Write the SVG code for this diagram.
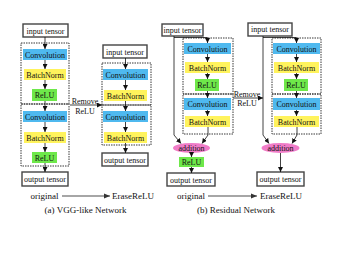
<svg xmlns="http://www.w3.org/2000/svg" width="349" height="261" viewBox="0 0 349 261">
<defs>
<marker id="ah" markerWidth="5" markerHeight="5" refX="5" refY="2.5" orient="auto" markerUnits="userSpaceOnUse"><path d="M0,0 L5,2.5 L0,5 z" fill="#111"/></marker>
<marker id="ahg" markerWidth="6" markerHeight="6" refX="6" refY="3" orient="auto" markerUnits="userSpaceOnUse"><path d="M0,0.5 L6,3 L0,5.5 z" fill="#333"/></marker>
<style>
text{font-family:"Liberation Serif","Times New Roman",serif;fill:#111;}
.lbl{font-size:8px;text-anchor:middle;}
.cap{font-size:9px;}
.io{fill:#fff;stroke:#444;stroke-width:1.4;}
.grp{fill:none;stroke:#222;stroke-width:0.9;stroke-dasharray:1.5 1;}
.conv{fill:#4fb9ef;}
.bn{fill:#fff35c;}
.relu{fill:#6ee84a;}
.add{fill:#f07cc8;}
.c{fill:none;stroke:#111;stroke-width:0.8;marker-end:url(#ah);}
.g{fill:none;stroke:#888;stroke-width:1.6;marker-end:url(#ahg);}
</style>
</defs>
<rect width="349" height="261" fill="#fff"/>

<!-- (a) VGG original -->
<g id="vgg-orig-block1"><rect class="grp" x="21" y="43" width="48" height="61"/></g>
<g id="vgg-orig-block2"><rect class="grp" x="21" y="104" width="48" height="62"/></g>
<g id="vgg-orig-input"><rect class="io" x="23" y="24" width="45" height="13"/><text class="lbl" x="45.5" y="33.5">input tensor</text></g>
<g id="vgg-orig-conv1"><rect class="conv" x="23" y="49" width="44" height="11"/><text class="lbl" x="45" y="57.5">Convolution</text></g>
<g id="vgg-orig-bn1"><rect class="bn" x="24" y="69" width="42" height="11"/><text class="lbl" x="45" y="77.5">BatchNorm</text></g>
<g id="vgg-orig-relu1"><rect class="relu" x="32" y="89" width="25" height="12"/><text class="lbl" x="44.5" y="98">ReLU</text></g>
<g id="vgg-orig-conv2"><rect class="conv" x="23" y="111" width="44" height="11"/><text class="lbl" x="45" y="119.5">Convolution</text></g>
<g id="vgg-orig-bn2"><rect class="bn" x="24" y="132" width="42" height="11"/><text class="lbl" x="45" y="140.5">BatchNorm</text></g>
<g id="vgg-orig-relu2"><rect class="relu" x="32" y="152" width="25" height="11"/><text class="lbl" x="44.5" y="160.5">ReLU</text></g>
<g id="vgg-orig-output"><rect class="io" x="22" y="172" width="46" height="14"/><text class="lbl" x="45" y="182">output tensor</text></g>

<!-- (a) VGG EraseReLU -->
<g id="vgg-erase-block1"><rect class="grp" x="102" y="63" width="49" height="42"/></g>
<g id="vgg-erase-block2"><rect class="grp" x="102" y="105" width="49" height="40"/></g>
<g id="vgg-erase-input"><rect class="io" x="103" y="45" width="44" height="13"/><text class="lbl" x="125" y="54.5">input tensor</text></g>
<g id="vgg-erase-conv1"><rect class="conv" x="103" y="69" width="45" height="11"/><text class="lbl" x="125.5" y="77.5">Convolution</text></g>
<g id="vgg-erase-bn1"><rect class="bn" x="104" y="90" width="43" height="11"/><text class="lbl" x="125.5" y="98.5">BatchNorm</text></g>
<g id="vgg-erase-conv2"><rect class="conv" x="103" y="111" width="45" height="11"/><text class="lbl" x="125.5" y="119.5">Convolution</text></g>
<g id="vgg-erase-bn2"><rect class="bn" x="104" y="132" width="43" height="11"/><text class="lbl" x="125.5" y="140.5">BatchNorm</text></g>
<g id="vgg-erase-output"><rect class="io" x="102" y="153" width="46" height="13"/><text class="lbl" x="125" y="162.5">output tensor</text></g>

<!-- (b) Residual original -->
<g id="res-orig-block1"><rect class="grp" x="183" y="38" width="50" height="56"/></g>
<g id="res-orig-block2"><rect class="grp" x="183" y="94" width="50" height="40"/></g>
<g id="res-orig-input"><rect class="io" x="162" y="24" width="41" height="12"/><text class="lbl" x="182.5" y="32.8">input tensor</text></g>
<g id="res-orig-conv1"><rect class="conv" x="184" y="43" width="47" height="11"/><text class="lbl" x="207.5" y="51.5">Convolution</text></g>
<g id="res-orig-bn1"><rect class="bn" x="185" y="62" width="45" height="11"/><text class="lbl" x="207.5" y="70.5">BatchNorm</text></g>
<g id="res-orig-relu1"><rect class="relu" x="195" y="79" width="24" height="12"/><text class="lbl" x="207" y="88">ReLU</text></g>
<g id="res-orig-conv2"><rect class="conv" x="184" y="98" width="47" height="12"/><text class="lbl" x="207.5" y="107">Convolution</text></g>
<g id="res-orig-bn2"><rect class="bn" x="185" y="116" width="45" height="11"/><text class="lbl" x="207.5" y="124.5">BatchNorm</text></g>
<g id="res-orig-add"><ellipse class="add" cx="191.5" cy="148" rx="18.5" ry="5"/><text class="lbl" x="191.5" y="151">addition</text></g>
<g id="res-orig-relu2"><rect class="relu" x="179" y="157" width="25" height="10"/><text class="lbl" x="191.5" y="165">ReLU</text></g>
<g id="res-orig-output"><rect class="io" x="167" y="173" width="48" height="13"/><text class="lbl" x="191" y="182.5">output tensor</text></g>

<!-- (b) Residual EraseReLU -->
<g id="res-erase-block1"><rect class="grp" x="272" y="38" width="49" height="56"/></g>
<g id="res-erase-block2"><rect class="grp" x="272" y="94" width="49" height="40"/></g>
<g id="res-erase-input"><rect class="io" x="248" y="23" width="44" height="13"/><text class="lbl" x="270" y="32.3">input tensor</text></g>
<g id="res-erase-conv1"><rect class="conv" x="273" y="43" width="47" height="11"/><text class="lbl" x="296.5" y="51.5">Convolution</text></g>
<g id="res-erase-bn1"><rect class="bn" x="274" y="62" width="45" height="11"/><text class="lbl" x="296.5" y="70.5">BatchNorm</text></g>
<g id="res-erase-relu1"><rect class="relu" x="284" y="79" width="24" height="12"/><text class="lbl" x="296" y="88">ReLU</text></g>
<g id="res-erase-conv2"><rect class="conv" x="273" y="98" width="47" height="12"/><text class="lbl" x="296.5" y="107">Convolution</text></g>
<g id="res-erase-bn2"><rect class="bn" x="274" y="116" width="45" height="11"/><text class="lbl" x="296.5" y="124.5">BatchNorm</text></g>
<g id="res-erase-add"><ellipse class="add" cx="280.5" cy="148" rx="19" ry="5"/><text class="lbl" x="280.5" y="151">addition</text></g>
<g id="res-erase-output"><rect class="io" x="257" y="172" width="47" height="14"/><text class="lbl" x="280.5" y="182">output tensor</text></g>

<g id="connectors">
<!-- VGG original -->
<path class="c" d="M45,37 V49"/>
<path class="c" d="M45,60 V69"/>
<path class="c" d="M45,80 V89"/>
<path class="c" d="M45,101 V111"/>
<path class="c" d="M45,122 V132"/>
<path class="c" d="M45,143 V152"/>
<path class="c" d="M45,163 V172"/>
<!-- VGG erase -->
<path class="c" d="M125.5,58 V69"/>
<path class="c" d="M125.5,80 V90"/>
<path class="c" d="M125.5,101 V111"/>
<path class="c" d="M125.5,122 V132"/>
<path class="c" d="M125.5,143 V153"/>
<!-- Residual original -->
<path class="c" d="M174,37.5 H207.5 V43"/>
<path class="c" d="M174,36 V135 L181,143.5"/>
<path class="c" d="M207.5,54 V62"/>
<path class="c" d="M207.5,73 V79"/>
<path class="c" d="M207.5,91 V98"/>
<path class="c" d="M207.5,110 V116"/>
<path class="c" d="M208,127 V135 L202,143.5"/>
<path class="c" d="M191.5,153 V157"/>
<path class="c" d="M191.5,167 V173"/>
<!-- Residual erase -->
<path class="c" d="M263,37.5 H296.5 V43"/>
<path class="c" d="M263,36 V135 L269,143.5"/>
<path class="c" d="M296.5,54 V62"/>
<path class="c" d="M296.5,73 V79"/>
<path class="c" d="M296.5,91 V98"/>
<path class="c" d="M296.5,110 V116"/>
<path class="c" d="M297,127 V135 L292,143.5"/>
<path class="c" d="M280.5,153 V172"/>
<!-- Remove ReLU -->
<path class="c" d="M70,105 H102"/>
<path class="c" d="M233,98 H263"/>
<!-- original -> EraseReLU -->
<path class="g" d="M62,196 H110"/>
<path class="g" d="M208,196 H257"/>
</g>

<text class="lbl" x="85" y="103.5">Remove</text>
<text class="lbl" x="85" y="113.5">ReLU</text>
<text class="lbl" x="247" y="96.5">Remove</text>
<text class="lbl" x="247" y="106">ReLU</text>

<text class="cap" x="44.5" y="199" text-anchor="middle">original</text>
<text class="cap" x="112" y="199">EraseReLU</text>
<text class="cap" x="85.5" y="213" text-anchor="middle">(a) VGG-like Network</text>
<text class="cap" x="191" y="199" text-anchor="middle">original</text>
<text class="cap" x="260" y="199">EraseReLU</text>
<text class="cap" x="236" y="213" text-anchor="middle">(b) Residual Network</text>
</svg>
